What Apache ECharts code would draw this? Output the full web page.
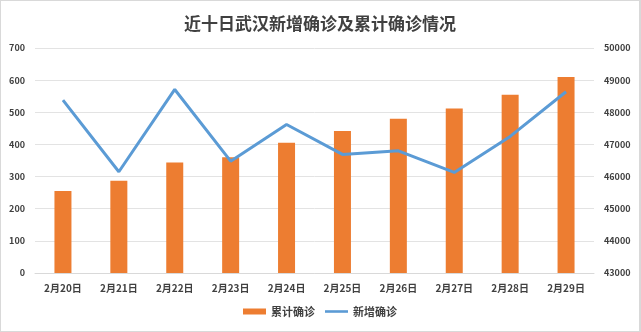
<!DOCTYPE html>
<html><head><meta charset="utf-8">
<script src="https://cdn.jsdelivr.net/npm/echarts@6/dist/echarts.min.js"></script>
<style>
html,body{margin:0;padding:0;background:#fff;}
#c{width:641px;height:332px;box-sizing:border-box;border:1px solid #d9d9d9;border-right-width:2px;}
</style></head>
<body><div id="c"></div>
<script>
const categories = ['2月20日','2月21日','2月22日','2月23日','2月24日','2月25日','2月26日','2月27日','2月28日','2月29日'];
const cumulative = [45552, 45870, 46438, 46602, 47056, 47414, 47796, 48114, 48546, 49100];
const newCases = [538, 315, 571, 348, 462, 369, 380, 313, 425, 564];
const leftTicks = [0, 700, 100];
const rightTicks = [43000, 50000, 1000];

const chart = echarts.init(document.getElementById('c'), null, {renderer:'canvas'});
const font = '"Noto Sans CJK SC", sans-serif';
chart.setOption({
  animation:false,
  title:{text:'近十日武汉新增确诊及累计确诊情况', left:'center', top:9,
    textStyle:{fontFamily:font, fontSize:17, fontWeight:'bold', color:'#404040'}},
  legend:{bottom:9, left:'center', itemGap:10, itemWidth:23, itemHeight:6,
    textStyle:{fontFamily:font, fontSize:11, fontWeight:'bold', color:'#404040'},
    data:[{name:'累计确诊', icon:'rect'},
          {name:'新增确诊', icon:'path://M0,0L40,0L40,4.5L0,4.5Z', itemStyle:{color:'#5B9BD5'}}]},
  grid:{left:34, right:45, top:47, bottom:58, containLabel:false},
  xAxis:{type:'category', data:categories,
    axisLine:{lineStyle:{color:'#d9d9d9'}}, axisTick:{show:false},
    axisLabel:{fontFamily:font, fontSize:10, fontWeight:'bold', color:'#404040', margin:10}},
  yAxis:[
    {type:'value', min:leftTicks[0], max:leftTicks[1], interval:leftTicks[2], position:'left',
      axisLine:{show:false}, axisTick:{show:false},
      splitLine:{lineStyle:{color:'#e3e3e3', width:1}},
      axisLabel:{fontFamily:font, fontSize:9, fontWeight:'bold', color:'#404040', margin:10}},
    {type:'value', min:rightTicks[0], max:rightTicks[1], interval:rightTicks[2], position:'right',
      axisLine:{show:false}, axisTick:{show:false}, splitLine:{show:false},
      axisLabel:{fontFamily:font, fontSize:9, fontWeight:'bold', color:'#404040', margin:10,
        formatter:function(v){return String(v);}}}
  ],
  series:[
    {name:'累计确诊', type:'bar', yAxisIndex:1, data:cumulative, barWidth:17,
      itemStyle:{color:'#ED7D31'}},
    {name:'新增确诊', type:'line', yAxisIndex:0, data:newCases, symbol:'none',
      lineStyle:{color:'#5B9BD5', width:3}, itemStyle:{color:'#5B9BD5'}}
  ]
});
</script></body></html>
